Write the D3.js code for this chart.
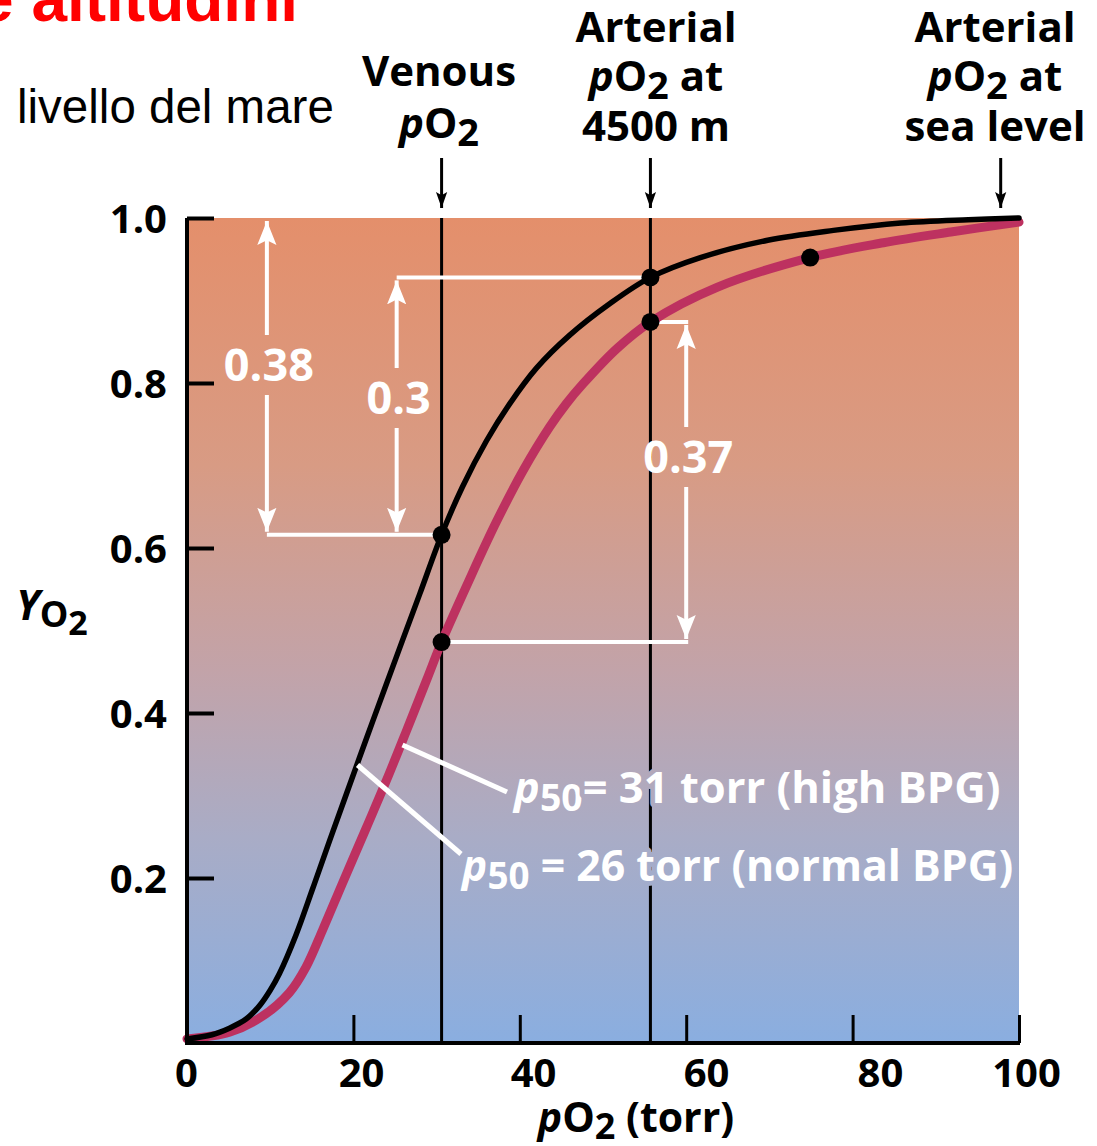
<!DOCTYPE html>
<html>
<head>
<meta charset="utf-8">
<script src="https://cdn.jsdelivr.net/npm/d3@7/dist/d3.min.js"></script>
<style>
  html, body { margin: 0; padding: 0; background: #fff; }
  svg { display: block; }
  text { font-family: "Open Sans", "Noto Sans", sans-serif; }
</style>
</head>
<body>
<svg id="chart" width="1097" height="1146"></svg>
<script>
// Oxygen saturation curves (pO2 in torr, fractional saturation Y)
const pO2Ticks = [0, 20, 40, 60, 80, 100];
const pO2TickLabels = ["0", "20", "40", "60", "80", "100"];
const yTicks = [0.2, 0.4, 0.6, 0.8, 1.0];
const yTickLabels = ["0.2", "0.4", "0.6", "0.8", "1.0"];

// p50 = 26 torr (normal BPG)
const normalBPG = [
  [0, 0.005], [3.0, 0.010], [5.1, 0.018], [7.1, 0.029], [8.7, 0.045],
  [10.0, 0.064], [11.1, 0.084], [13.1, 0.131], [15.1, 0.187], [17.1, 0.244],
  [19.2, 0.303], [21.6, 0.370], [24.0, 0.436], [25.9, 0.488], [28.0, 0.545],
  [30.6, 0.616], [33.1, 0.674], [36.0, 0.730], [38.8, 0.775], [42.0, 0.818],
  [46.0, 0.858], [50.8, 0.896], [55.7, 0.928], [61.7, 0.952], [69.8, 0.973],
  [77.7, 0.985], [85.8, 0.994], [93.9, 0.998], [100, 1.0]
];
// p50 = 31 torr (high BPG)
const highBPG = [
  [0, 0.005], [5.1, 0.013], [9.0, 0.032], [12.3, 0.061], [14.3, 0.092],
  [16.3, 0.137], [18.7, 0.194], [21.6, 0.262], [24.0, 0.319], [26.4, 0.379],
  [28.8, 0.440], [30.6, 0.486], [34.0, 0.563], [37.2, 0.632], [40.4, 0.694],
  [43.6, 0.747], [45.6, 0.775], [47.6, 0.799], [51.7, 0.842], [55.7, 0.874],
  [63.7, 0.916], [74.9, 0.952], [83.7, 0.970], [91.8, 0.983], [100, 0.995]
];

// Reference pressures
const venousPO2 = 30.6;
const arterial4500 = 55.7;
const arterialSeaLevel = 97.8;

// Highlighted points [pO2, Y]
const normalDots = [[30.6, 0.616], [55.7, 0.928]];
const highDots = [[30.6, 0.486], [55.7, 0.874], [74.9, 0.952]];

// Saturation differences [label, pO2 of arrow, Y low, Y high]
const deltas = [
  ["0.38", 9.6, 0.616, 1.0],
  ["0.3", 25.2, 0.616, 0.928],
  ["0.37", 60.0, 0.486, 0.874]
];

const svg = d3.select("#chart");
const x = d3.scaleLinear().domain([0, 100]).range([187, 1019]);
const y = d3.scaleLinear().domain([0, 1]).range([1043, 218]);
// tick text sits slightly spread out relative to the tick marks
const xLabel = d3.scaleLinear().domain(pO2Ticks).range([186, 361, 533, 706, 880, 1026]);

const defs = svg.append("defs");
const grad = defs.append("linearGradient")
  .attr("id", "bg").attr("gradientUnits", "userSpaceOnUse")
  .attr("x1", 0).attr("x2", 0).attr("y1", y(1)).attr("y2", y(0));
[[0, "#e48f6b"], [0.3, "#d89b84"], [0.55, "#c2a3a9"], [0.75, "#a9acc6"], [1, "#8aaee0"]]
  .forEach(([o, c]) => grad.append("stop").attr("offset", o).attr("stop-color", c));

const whiteHead = defs.append("marker").attr("id", "wh")
  .attr("viewBox", "0 0 10 10").attr("refX", 10).attr("refY", 5)
  .attr("markerWidth", 24).attr("markerHeight", 24).attr("markerUnits", "userSpaceOnUse")
  .attr("orient", "auto");
whiteHead.append("path").attr("d", "M0,1 L10,5 L0,9 L2,5 Z").attr("fill", "#fff");

const blackHead = defs.append("marker").attr("id", "bh")
  .attr("viewBox", "0 0 10 10").attr("refX", 10).attr("refY", 5)
  .attr("markerWidth", 16).attr("markerHeight", 16).attr("markerUnits", "userSpaceOnUse")
  .attr("orient", "auto");
blackHead.append("path").attr("d", "M0,1.5 L10,5 L0,8.5 L2,5 Z").attr("fill", "#000");

// Plot background
svg.append("rect")
  .attr("x", x(0)).attr("y", y(1))
  .attr("width", x(100) - x(0)).attr("height", y(0) - y(1))
  .attr("fill", "url(#bg)");

// Title fragments
svg.append("text").attr("x", -22).attr("y", 21)
  .style("font-family", "'Liberation Sans', Arial, sans-serif")
  .attr("font-size", 64).attr("font-weight", 700).attr("fill", "#ff0000")
  .text("e altitudini");
svg.append("text").attr("x", 17).attr("y", 123)
  .style("font-family", "'Liberation Sans', Arial, sans-serif")
  .attr("font-size", 47.5).attr("fill", "#000")
  .text("livello del mare");

// Reference lines
[venousPO2, arterial4500].forEach(v => {
  svg.append("line")
    .attr("x1", x(v)).attr("x2", x(v)).attr("y1", y(1)).attr("y2", y(0))
    .attr("stroke", "#000").attr("stroke-width", 3);
});

// White difference annotations
const wg = svg.append("g").attr("stroke", "#fff").attr("stroke-width", 4).attr("fill", "none");
wg.append("line").attr("x1", x(deltas[0][1])).attr("x2", x(venousPO2))
  .attr("y1", y(deltas[0][2])).attr("y2", y(deltas[0][2]));
wg.append("line").attr("x1", x(deltas[1][1])).attr("x2", x(arterial4500))
  .attr("y1", y(deltas[1][3])).attr("y2", y(deltas[1][3]));
wg.append("line").attr("x1", x(arterial4500)).attr("x2", x(deltas[2][1]) + 2)
  .attr("y1", y(deltas[2][3])).attr("y2", y(deltas[2][3]));
wg.append("line").attr("x1", x(venousPO2)).attr("x2", x(deltas[2][1]) + 2)
  .attr("y1", y(deltas[2][2])).attr("y2", y(deltas[2][2]));

const deltaTextY = {"0.38": 365, "0.3": 398, "0.37": 457};
deltas.forEach(([lab, px, lo, hi]) => {
  const xc = x(px);
  const textY = deltaTextY[lab];
  const gap = 30;
  wg.append("line").attr("x1", xc).attr("x2", xc)
    .attr("y1", textY - gap).attr("y2", y(hi) + 3)
    .attr("marker-end", "url(#wh)");
  wg.append("line").attr("x1", xc).attr("x2", xc)
    .attr("y1", textY + gap).attr("y2", y(lo) - 3)
    .attr("marker-end", "url(#wh)");
  svg.append("text").attr("x", xc + 2).attr("y", textY + 16)
    .attr("text-anchor", "middle").attr("font-size", 45).attr("font-weight", 700)
    .attr("fill", "#fff").text(lab);
});

// Curves
const line = d3.line().x(d => x(d[0])).y(d => y(d[1])).curve(d3.curveCatmullRom.alpha(0.5));
svg.append("path").datum(highBPG).attr("d", line)
  .attr("fill", "none").attr("stroke", "#bd3160").attr("stroke-width", 9)
  .attr("stroke-linecap", "round");
svg.append("path").datum(normalBPG).attr("d", line)
  .attr("fill", "none").attr("stroke", "#000").attr("stroke-width", 5.5)
  .attr("stroke-linecap", "round");

// Dots
svg.selectAll(".dot").data(normalDots.concat(highDots)).join("circle")
  .attr("cx", d => x(d[0])).attr("cy", d => y(d[1])).attr("r", 9).attr("fill", "#000");

// Legend leader lines and labels
const lg = svg.append("g").attr("stroke", "#fff").attr("stroke-width", 5);
lg.append("line").attr("x1", x(25.9)).attr("y1", 745).attr("x2", 507).attr("y2", 792);
lg.append("line").attr("x1", x(20.5)).attr("y1", 765).attr("x2", 461).attr("y2", 854);

function p50Label(tx, ty, size, rest) {
  const t = svg.append("text").attr("x", tx).attr("y", ty)
    .attr("font-size", size).attr("font-weight", 700).attr("fill", "#fff")
    .attr("stroke", "url(#bg)").attr("stroke-width", 10)
    .style("paint-order", "stroke").attr("stroke-linejoin", "round");
  t.append("tspan").attr("font-style", "italic").text("p");
  t.append("tspan").attr("font-size", size * 0.86).attr("dy", 8).text("50");
  t.append("tspan").attr("dy", -8).text(rest);
}
p50Label(514, 803, 43.5, "= 31 torr (high BPG)");
p50Label(462, 881, 42.8, " = 26 torr (normal BPG)");

// Axes
const yAxis = d3.axisLeft(y).tickValues(yTicks)
  .tickFormat((d, i) => yTickLabels[i])
  .tickSizeInner(-27).tickSizeOuter(0).tickPadding(20);
const gy = svg.append("g").attr("transform", `translate(${x(0)},0)`).call(yAxis);
gy.select(".domain").attr("stroke-width", 4).attr("d", `M0,${y(1)}V${y(0) + 2}`);
gy.selectAll(".tick line").attr("stroke-width", 4);
gy.selectAll(".tick text").attr("font-size", 40).attr("font-weight", 700)
  .style("font-family", "'Open Sans', sans-serif").attr("dy", "0.36em");

const xAxis = d3.axisBottom(x).tickValues(pO2Ticks)
  .tickFormat((d, i) => pO2TickLabels[i])
  .tickSizeInner(-28).tickSizeOuter(0).tickPadding(16);
const gx = svg.append("g").attr("transform", `translate(0,${y(0)})`).call(xAxis);
gx.select(".domain").attr("stroke-width", 4).attr("d", `M${x(0) - 2},0H${x(100) + 1}`);
gx.selectAll(".tick line").attr("stroke-width", 3).filter(d => d === 0).remove();
gx.selectAll(".tick text").attr("font-size", 40).attr("font-weight", 700)
  .style("font-family", "'Open Sans', sans-serif")
  .attr("x", d => xLabel(d) - x(d)).attr("dy", "0.71em");

// Axis titles
const xt = svg.append("text").attr("x", 636).attr("y", 1132).attr("text-anchor", "middle")
  .attr("font-size", 41).attr("font-weight", 700);
xt.append("tspan").attr("font-style", "italic").text("p");
xt.append("tspan").text("O");
xt.append("tspan").attr("font-size", 36).attr("dy", 7).text("2");
xt.append("tspan").attr("dy", -7).text(" (torr)");

const yt = svg.append("text").attr("x", 16).attr("y", 620).attr("font-weight", 700);
yt.append("tspan").attr("font-style", "italic").attr("font-size", 42).text("Y");
yt.append("tspan").attr("font-size", 36).attr("dy", 7).text("O");
yt.append("tspan").attr("font-size", 34).attr("dy", 8).text("2");

// Top labels with arrows
function header(px, tx, lines) {
  lines.forEach(ln => {
    const t = svg.append("text").attr("x", tx).attr("y", ln.y)
      .attr("text-anchor", "middle").attr("font-size", 42).attr("font-weight", 700);
    ln.parts.forEach(p => {
      const s = t.append("tspan").text(p.t);
      if (p.i) s.attr("font-style", "italic");
      if (p.sub) s.attr("font-size", 38).attr("dy", 8);
      if (p.up) s.attr("dy", -8);
    });
  });
  svg.append("line").attr("x1", x(px)).attr("x2", x(px)).attr("y1", 158).attr("y2", 208)
    .attr("stroke", "#000").attr("stroke-width", 3).attr("marker-end", "url(#bh)");
}
const pO2 = [{t: "p", i: true}, {t: "O"}, {t: "2", sub: true}];
header(venousPO2, 439, [
  {y: 86, parts: [{t: "Venous"}]},
  {y: 138, parts: pO2}
]);
header(arterial4500, 656, [
  {y: 42, parts: [{t: "Arterial"}]},
  {y: 91, parts: pO2.concat([{t: " at", up: true}])},
  {y: 141, parts: [{t: "4500 m"}]}
]);
header(arterialSeaLevel, 995, [
  {y: 42, parts: [{t: "Arterial"}]},
  {y: 91, parts: pO2.concat([{t: " at", up: true}])},
  {y: 141, parts: [{t: "sea level"}]}
]);
</script>
</body>
</html>
